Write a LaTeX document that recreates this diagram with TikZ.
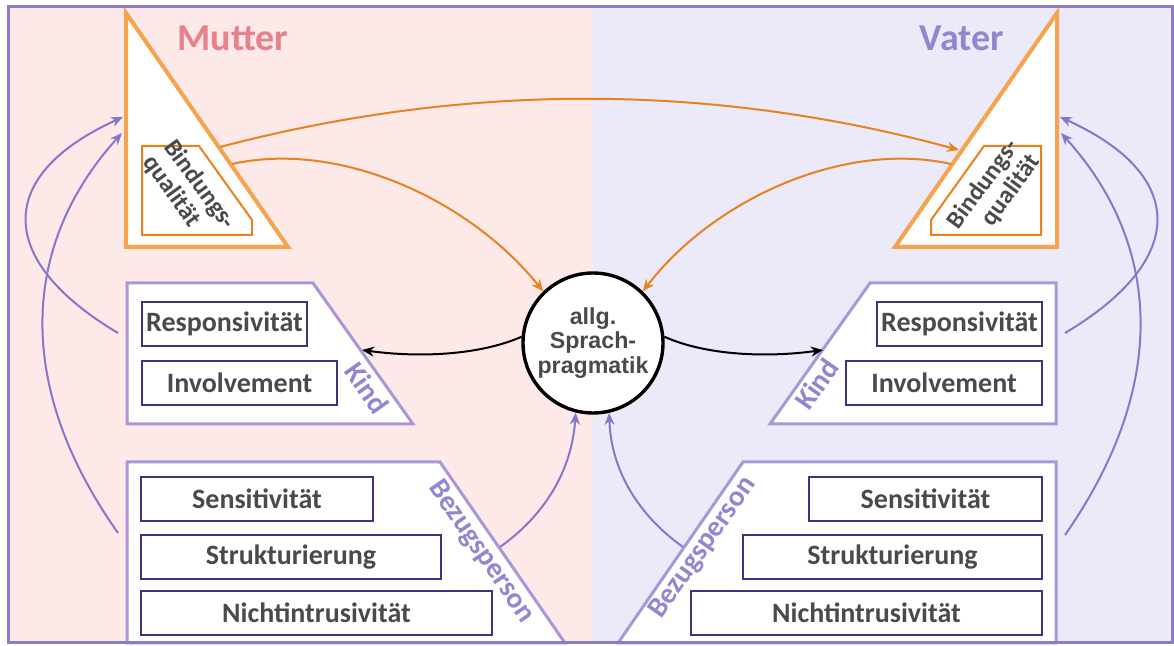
\documentclass[tikz,border=0pt]{standalone}
\usepackage{fontspec}
\setmainfont{Carlito}
\newfontfamily\arialfont{Liberation Sans}
\usetikzlibrary{arrows.meta}
\definecolor{bgmutter}{HTML}{FDE9E7}
\definecolor{bgvater}{HTML}{ECEAF8}
\definecolor{rahmen}{HTML}{8C7CC8}
\definecolor{orangehell}{HTML}{F5A34E}
\definecolor{orangedunkel}{HTML}{E8821E}
\definecolor{lila}{HTML}{A898D8}
\definecolor{lilapfeil}{HTML}{8577CC}
\definecolor{tinte}{HTML}{3D3580}
\definecolor{grau}{HTML}{4A4A4A}
\definecolor{rosa}{HTML}{E8818A}
\definecolor{lilatext}{HTML}{9585D0}
\begin{document}
\begin{tikzpicture}[x=0.5pt,y=-0.5pt,
  merkmal/.style={draw=tinte,line width=1pt,fill=white,minimum height=22pt,inner sep=0pt,
    text=grau,font=\fontsize{14}{16}\selectfont\bfseries},
  ecke/.style={text=lilatext,font=\fontsize{14.5}{16}\selectfont\bfseries},
  bindung/.style={text=grau,inner sep=0pt,font=\fontsize{12.5}{13}\selectfont\bfseries},
  pfeil/.style={line width=1pt,-{Stealth[length=6pt,width=5pt]}}]
\useasboundingbox (0,0) rectangle (1174,646);
\fill[bgmutter] (8,7) rectangle (593,643);
\fill[bgvater] (593,7) rectangle (1172,643);

\draw[orangehell,line width=2pt,fill=white] (126,13) -- (126,247) -- (288,247) -- cycle;
\draw[orangedunkel,line width=1pt,fill=white] (142,146) -- (199,146) -- (252,220) -- (252,235) -- (142,235) -- cycle;
\draw[orangehell,line width=2pt,fill=white] (1057,13) -- (1057,247) -- (895,247) -- cycle;
\draw[orangedunkel,line width=1pt,fill=white] (984,146) -- (1041,146) -- (1041,235) -- (931,235) -- (931,220) -- cycle;

\draw[lila,line width=1.5pt,fill=white] (127,283) -- (313,283) -- (413,424) -- (127,424) -- cycle;
\draw[lila,line width=1.5pt,fill=white] (1056,283) -- (870,283) -- (770,424) -- (1056,424) -- cycle;
\draw[lila,line width=1.5pt,fill=white] (127,462) -- (440,462) -- (565,643) -- (127,643) -- cycle;
\draw[lila,line width=1.5pt,fill=white] (1056,462) -- (743,462) -- (618,643) -- (1056,643) -- cycle;

\draw[rahmen,line width=1.5pt] (8,7) rectangle (1172,643);

\node[text=rosa,font=\fontsize{19}{20}\selectfont\bfseries] (mutter) at (233,38) {Mutter};
\node[text=lilatext,font=\fontsize{19}{20}\selectfont\bfseries] (vater) at (962,38) {Vater};
\node[bindung,rotate=-54,align=left] (bindM) at (189,193) {Bindungs-\\qualität};
\node[bindung,rotate=54,align=right] (bindV) at (994,192) {Bindungs-\\qualität};
\node[ecke,rotate=-55] (kindM) at (367,388) {Kind};
\node[ecke,rotate=55] (kindV) at (817,384) {Kind};
\node[ecke,rotate=-55.5] (bezugM) at (481,552) {Bezugsperson};
\node[ecke,rotate=55] (bezugV) at (703,548) {Bezugsperson};

\node[merkmal,minimum width=82.5pt] (respM) at (224.5,324) {Responsivität};
\node[merkmal,minimum width=97.5pt] (invM) at (239.5,383) {Involvement};
\node[merkmal,minimum width=116pt] (sensM) at (257,499) {Sensitivität};
\node[merkmal,minimum width=150pt] (strukM) at (291,557) {Strukturierung};
\node[merkmal,minimum width=175.5pt] (nichtM) at (316.5,613) {Nichtintrusivität};
\node[merkmal,minimum width=82.5pt] (respV) at (959.5,324) {Responsivität};
\node[merkmal,minimum width=98pt] (invV) at (944,383) {Involvement};
\node[merkmal,minimum width=116.5pt] (sensV) at (925.5,499) {Sensitivität};
\node[merkmal,minimum width=149.5pt] (strukV) at (892.5,557) {Strukturierung};
\node[merkmal,minimum width=175.5pt] (nichtV) at (866.5,613) {Nichtintrusivität};

\node[circle,draw=black,line width=1.7pt,fill=white,minimum size=70pt,inner sep=0pt,align=center,
  text=grau,font=\arialfont\fontsize{11.6}{12.4}\selectfont\bfseries] (prag) at (593,343) {allg.\\Sprach-\\pragmatik};

\coordinate (mA) at (220,147);
\coordinate (mB) at (232,164);
\coordinate (vA) at (959,150);
\coordinate (vB) at (951,164);
\coordinate (mL1) at (123,117);
\coordinate (mL2) at (122,133);
\coordinate (vR1) at (1060,117);
\coordinate (vR2) at (1061,133);
\coordinate (kM) at (362,350);
\coordinate (kV) at (823,350);
\coordinate (kMaus) at (118,333);
\coordinate (kVaus) at (1065,333);
\coordinate (bM) at (118,533);
\coordinate (bV) at (1065,535);
\coordinate (bMd) at (500,547);
\coordinate (bVd) at (683,547);

\draw[pfeil,orangedunkel] (mA) .. controls (467,82) and (713,83) .. (vA);
\draw[pfeil,orangedunkel] (mB) .. controls (340,140) and (470,200) .. (prag.134);
\draw[pfeil,orangedunkel] (vB) .. controls (843,140) and (713,200) .. (prag.46);
\draw[pfeil,black] (prag.175) .. controls (480,355) and (420,358) .. (kM);
\draw[pfeil,black] (prag.5) .. controls (705,355) and (765,358) .. (kV);
\draw[pfeil,lilapfeil] (kMaus) .. controls (-5,260) and (-5,175) .. (mL1);
\draw[pfeil,lilapfeil] (bM) .. controls (10,380) and (25,240) .. (mL2);
\draw[pfeil,lilapfeil] (kVaus) .. controls (1188,260) and (1188,175) .. (vR1);
\draw[pfeil,lilapfeil] (bV) .. controls (1173,380) and (1158,240) .. (vR2);
\draw[pfeil,lilapfeil] (bMd) .. controls (545,515) and (572,470) .. (prag.-104);
\draw[pfeil,lilapfeil] (bVd) .. controls (638,515) and (611,470) .. (prag.-77);
\end{tikzpicture}
\end{document}
